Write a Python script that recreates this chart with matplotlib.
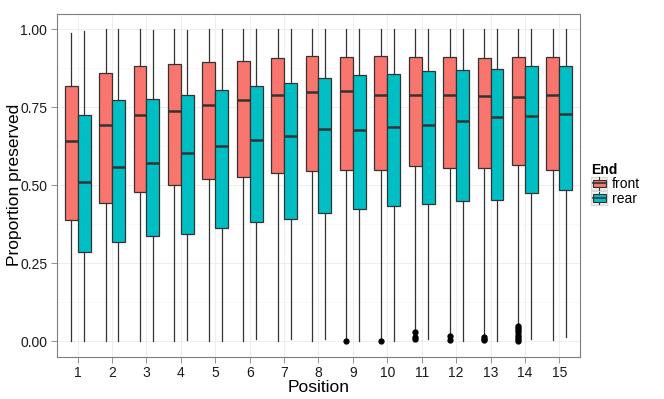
import numpy as np
import matplotlib
matplotlib.use('Agg')
import matplotlib.pyplot as plt
from matplotlib.legend_handler import HandlerBase
from matplotlib.patches import Rectangle
from matplotlib.lines import Line2D

plt.rcParams['font.family'] = ['Liberation Sans', 'DejaVu Sans']

# data
positions = list(range(1, 15 + 1))

front_q1 = [0.389, 0.443, 0.477, 0.502, 0.520, 0.527, 0.540, 0.545, 0.548, 0.550, 0.560, 0.555, 0.554, 0.566, 0.547]
front_med = [0.640, 0.693, 0.725, 0.739, 0.757, 0.772, 0.788, 0.797, 0.802, 0.790, 0.789, 0.788, 0.787, 0.782, 0.790]
front_q3 = [0.818, 0.859, 0.882, 0.887, 0.896, 0.898, 0.908, 0.915, 0.912, 0.913, 0.911, 0.911, 0.908, 0.910, 0.911]
front_hi = [0.987, 1.0, 1.0, 1.0, 1.0, 1.0, 1.0, 1.0, 1.0, 1.0, 1.0, 1.0, 1.0, 1.0, 1.0]
front_lo = [0.0, 0.0, 0.0, 0.0, 0.0, 0.0, 0.0, 0.0, 0.006, 0.006, 0.035, 0.022, 0.02, 0.058, 0.004]
front_out = [[], [], [], [], [], [], [], [], [0.0], [0.0],
             [0.030, 0.014, 0.008], [0.015, 0.004], [0.012, 0.006, 0.002],
             [0.050, 0.043, 0.036, 0.028, 0.020, 0.012, 0.006, 0.0], []]

rear_q1 = [0.285, 0.317, 0.338, 0.344, 0.363, 0.382, 0.391, 0.410, 0.423, 0.432, 0.439, 0.448, 0.451, 0.474, 0.483]
rear_med = [0.509, 0.557, 0.570, 0.604, 0.627, 0.645, 0.658, 0.681, 0.677, 0.685, 0.693, 0.707, 0.717, 0.721, 0.729]
rear_q3 = [0.724, 0.774, 0.776, 0.790, 0.804, 0.819, 0.826, 0.844, 0.852, 0.855, 0.865, 0.868, 0.871, 0.881, 0.883]
rear_hi = [0.993, 1.0, 0.996, 0.996, 1.0, 1.0, 1.0, 1.0, 1.0, 1.0, 1.0, 1.0, 1.0, 1.0, 1.0]
rear_lo = [0.0, 0.0, 0.0, 0.005, 0.0, 0.008, 0.008, 0.008, 0.0, 0.0, 0.008, 0.0, 0.0, 0.006, 0.012]

groups = ['front', 'rear']
colors = {'front': '#F8766D', 'rear': '#00BFC4'}


def make_stats(q1, med, q3, lo, hi, out=None):
    stats = []
    for i in range(len(q1)):
        stats.append({'q1': q1[i], 'med': med[i], 'q3': q3[i],
                      'whislo': lo[i], 'whishi': hi[i],
                      'fliers': out[i] if out else []})
    return stats


fig = plt.figure(figsize=(6.64, 3.99), dpi=100)
ax = fig.add_axes([0.0858, 0.106, 0.7877, 0.860])

edge = '#333333'
w = 0.375
pos = np.array(positions, dtype=float)
for name, shift, stats in [('front', -w / 2, make_stats(front_q1, front_med, front_q3, front_lo, front_hi, front_out)),
                           ('rear', w / 2, make_stats(rear_q1, rear_med, rear_q3, rear_lo, rear_hi))]:
    ax.bxp(stats, positions=pos + shift, widths=w, patch_artist=True,
           showcaps=False, manage_ticks=False,
           boxprops=dict(facecolor=colors[name], edgecolor=edge, linewidth=0.9),
           medianprops=dict(color=edge, linewidth=1.8),
           whiskerprops=dict(color=edge, linewidth=0.9),
           flierprops=dict(marker='o', markerfacecolor='black', markeredgecolor='black',
                           markersize=3.5, linestyle='none'),
           zorder=3)

ax.set_xlim(0.4, 15.6)
ax.set_ylim(-0.05, 1.05)
ax.set_xticks(positions)
ax.set_xticklabels([str(p) for p in positions])
ax.set_yticks([0, 0.25, 0.5, 0.75, 1.0])
ax.set_yticklabels(['0.00', '0.25', '0.50', '0.75', '1.00'])
ax.set_yticks([0.125, 0.375, 0.625, 0.875], minor=True)
ax.tick_params(axis='both', which='major', length=4, width=0.6, color='#7f7f7f',
               labelsize=10, labelcolor='#1a1a1a', pad=3)
ax.tick_params(axis='both', which='minor', length=0)

ax.grid(True, which='major', color='#EBEBEB', linewidth=0.6, zorder=0)
ax.grid(True, which='minor', axis='y', color='#F5F5F5', linewidth=0.4, zorder=0)
ax.set_axisbelow(True)
for s in ax.spines.values():
    s.set_color('#7f7f7f')
    s.set_linewidth(0.8)

ax.set_xlabel('Position', fontsize=12.5, labelpad=0)
ax.set_ylabel('Proportion preserved', fontsize=12.5, labelpad=-1)


class BoxKey(HandlerBase):
    def create_artists(self, legend, orig_handle, xdescent, ydescent, width, height, fontsize, trans):
        c = orig_handle.get_facecolor()
        x0, y0 = -xdescent, -ydescent
        bg = Rectangle((x0, y0), width, height, facecolor='#F2F2F2',
                       edgecolor='#D9D9D9', linewidth=0.8, transform=trans)
        cx = x0 + width / 2
        box = Rectangle((x0 + width * 0.1, y0 + height * 0.22), width * 0.8, height * 0.56,
                        facecolor=c, edgecolor=edge, linewidth=0.8, transform=trans)
        mid = Line2D([x0 + width * 0.1, x0 + width * 0.9],
                     [y0 + height / 2] * 2, color=edge, linewidth=1.2, transform=trans)
        wt = Line2D([cx, cx], [y0 + height * 0.78, y0 + height * 0.95],
                    color=edge, linewidth=0.8, transform=trans)
        wb = Line2D([cx, cx], [y0 + height * 0.05, y0 + height * 0.22],
                    color=edge, linewidth=0.8, transform=trans)
        return [bg, box, mid, wt, wb]


handles = [Rectangle((0, 0), 1, 1, facecolor=colors[g]) for g in groups]
leg = fig.legend(handles, groups, title='End', loc='upper left',
                 bbox_to_anchor=(0.876, 0.617), frameon=False, fontsize=10,
                 handler_map={Rectangle: BoxKey()}, handlelength=1.15, handleheight=1.15,
                 handletextpad=0.3, labelspacing=0.0, borderpad=0.2)
leg.get_title().set_fontweight('bold')
leg.get_title().set_fontsize(10)
leg._legend_box.align = 'left'

fig.savefig('out.png', dpi=100)
